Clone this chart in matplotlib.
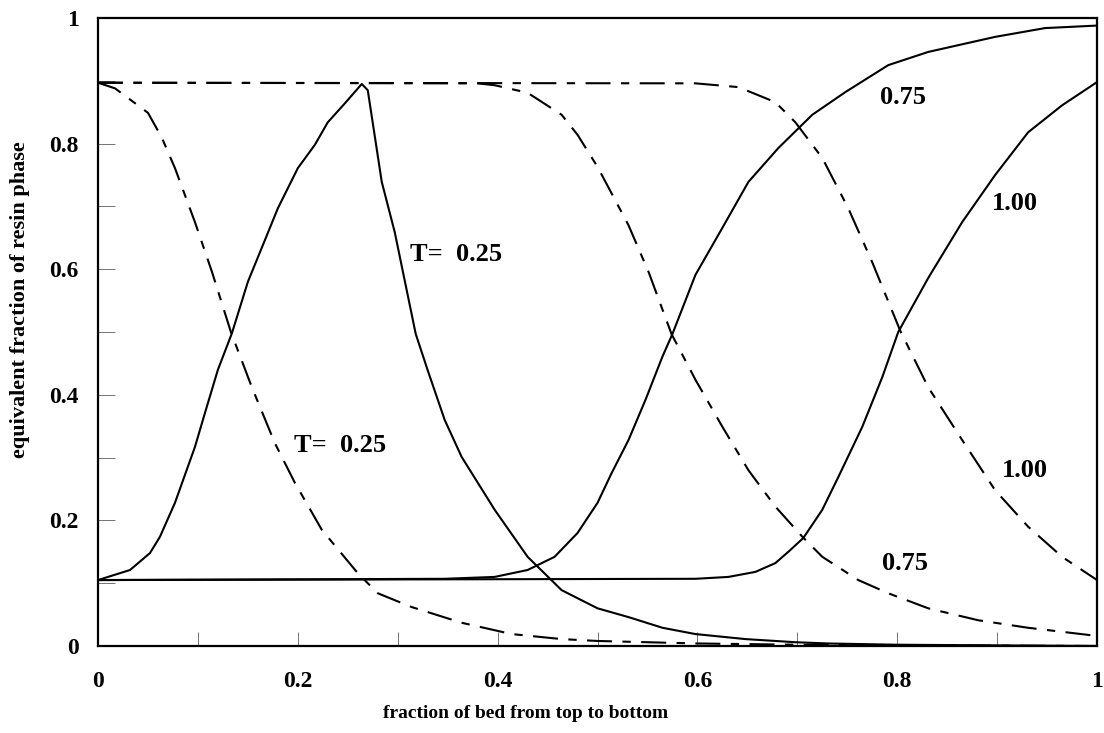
import matplotlib
matplotlib.use("Agg")
import matplotlib.pyplot as plt
from matplotlib.ticker import MultipleLocator, FixedLocator

plt.rcParams['font.family'] = ['Liberation Serif', 'DejaVu Serif']
plt.rcParams['font.weight'] = 'bold'

# solid curves (resin phase, T = 0.25 / 0.75 / 1.00)
solid_025_x = [0, 0.032, 0.052, 0.062, 0.077, 0.097, 0.107, 0.120, 0.134, 0.150, 0.169, 0.180,
               0.200, 0.217, 0.230, 0.247, 0.264, 0.270, 0.284, 0.297, 0.318, 0.330, 0.347,
               0.364, 0.397, 0.430, 0.464, 0.500, 0.531, 0.565, 0.598, 0.648, 0.698, 0.731,
               0.80, 0.90, 1.0]
solid_025_y = [0.105, 0.121, 0.148, 0.174, 0.228, 0.317, 0.371, 0.440, 0.498, 0.580, 0.654, 0.697,
               0.761, 0.798, 0.834, 0.864, 0.895, 0.885, 0.739, 0.659, 0.497, 0.439, 0.360,
               0.301, 0.217, 0.142, 0.089, 0.060, 0.046, 0.029, 0.019, 0.011, 0.006, 0.004,
               0.002, 0.001, 0.0]

solid_075_x = [0, 0.347, 0.397, 0.430, 0.457, 0.480, 0.500, 0.514, 0.531, 0.548, 0.565, 0.575,
               0.598, 0.625, 0.651, 0.681, 0.715, 0.748, 0.791, 0.831, 0.898, 0.948, 1.0]
solid_075_y = [0.105, 0.107, 0.110, 0.121, 0.142, 0.180, 0.228, 0.275, 0.328, 0.392, 0.461, 0.497,
               0.591, 0.666, 0.739, 0.793, 0.846, 0.882, 0.925, 0.946, 0.970, 0.984, 0.988]

solid_100_x = [0, 0.598, 0.631, 0.658, 0.678, 0.691, 0.706, 0.725, 0.741, 0.765, 0.785, 0.801,
               0.831, 0.865, 0.898, 0.931, 0.965, 1.0]
solid_100_y = [0.105, 0.107, 0.110, 0.118, 0.132, 0.150, 0.172, 0.217, 0.269, 0.349, 0.428, 0.500,
               0.586, 0.675, 0.750, 0.818, 0.861, 0.898]

# dash-dot curves
dash_025_x = [0, 0.017, 0.050, 0.064, 0.077, 0.097, 0.114, 0.133, 0.154, 0.177, 0.197, 0.224,
              0.260, 0.280, 0.314, 0.364, 0.414, 0.464, 0.50, 0.60, 0.70, 0.80, 1.0]
dash_025_y = [0.897, 0.888, 0.849, 0.809, 0.761, 0.675, 0.596, 0.500, 0.412, 0.323, 0.260, 0.185,
              0.116, 0.084, 0.062, 0.037, 0.019, 0.011, 0.008, 0.004, 0.002, 0.001, 0.0]

dash_075_x = [0, 0.38, 0.397, 0.430, 0.464, 0.480, 0.500, 0.531, 0.551, 0.574, 0.598, 0.625,
              0.651, 0.678, 0.705, 0.725, 0.761, 0.791, 0.831, 0.881, 0.931, 1.0]
dash_075_y = [0.897, 0.896, 0.893, 0.881, 0.846, 0.814, 0.763, 0.670, 0.596, 0.497, 0.424, 0.349,
              0.280, 0.222, 0.174, 0.142, 0.105, 0.084, 0.060, 0.041, 0.029, 0.016]

dash_100_x = [0, 0.598, 0.641, 0.678, 0.698, 0.725, 0.751, 0.775, 0.803, 0.831, 0.865, 0.898,
              0.931, 0.965, 1.0]
dash_100_y = [0.897, 0.896, 0.890, 0.866, 0.834, 0.777, 0.697, 0.611, 0.502, 0.412, 0.328, 0.248,
              0.190, 0.142, 0.105]

# curve labels: (text, x, y)
curve_labels = [('T=  0.25', 0.358, 0.624),
                ('T=  0.25', 0.242, 0.320),
                ('0.75', 0.806, 0.874),
                ('1.00', 0.918, 0.704),
                ('1.00', 0.928, 0.280),
                ('0.75', 0.808, 0.131)]

tick_values = [0, 0.2, 0.4, 0.6, 0.8, 1]
tick_texts = ['0', '0.2', '0.4', '0.6', '0.8', '1']

fig = plt.figure(figsize=(11.04, 7.33), dpi=100)
ax = fig.add_axes([0.0888, 0.1187, 0.9049, 0.8567])

dashdot = (0, (12, 5, 4, 5))
for xs, ys in [(solid_025_x, solid_025_y), (solid_075_x, solid_075_y), (solid_100_x, solid_100_y)]:
    ax.plot(xs, ys, color='black', linewidth=1.5, solid_joinstyle='round')
for xs, ys in [(dash_025_x, dash_025_y), (dash_075_x, dash_075_y), (dash_100_x, dash_100_y)]:
    ax.plot(xs, ys, color='black', linewidth=1.5, linestyle=dashdot)

for text, x, y in curve_labels:
    ax.text(x, y, text, fontsize=19, fontweight='bold', ha='center', va='center')

ax.set_xlim(0, 1)
ax.set_ylim(0, 1)
ax.xaxis.set_major_locator(FixedLocator(tick_values))
ax.yaxis.set_major_locator(FixedLocator(tick_values))
ax.set_xticklabels(tick_texts)
ax.set_yticklabels(tick_texts)
ax.xaxis.set_minor_locator(MultipleLocator(0.1))
ax.yaxis.set_minor_locator(MultipleLocator(0.1))
ax.tick_params(axis='x', which='both', direction='in', length=10, width=0.7, color='0.45',
               labelsize=17, pad=18)
ax.tick_params(axis='y', which='both', direction='in', length=12, width=0.7, color='0.45',
               labelsize=17, pad=14)
for spine in ax.spines.values():
    spine.set_linewidth(1.6)

ax.set_xlabel('fraction of bed from top to bottom', fontsize=14, fontweight='bold')
ax.set_ylabel('equivalent fraction of resin phase', fontsize=16, fontweight='bold')
ax.xaxis.set_label_coords(0.428, -0.108)
ax.xaxis.label.set_verticalalignment('center')
ax.yaxis.set_label_coords(-0.078, 0.551)
ax.yaxis.label.set_verticalalignment('center')

fig.savefig('out.png', dpi=100)
